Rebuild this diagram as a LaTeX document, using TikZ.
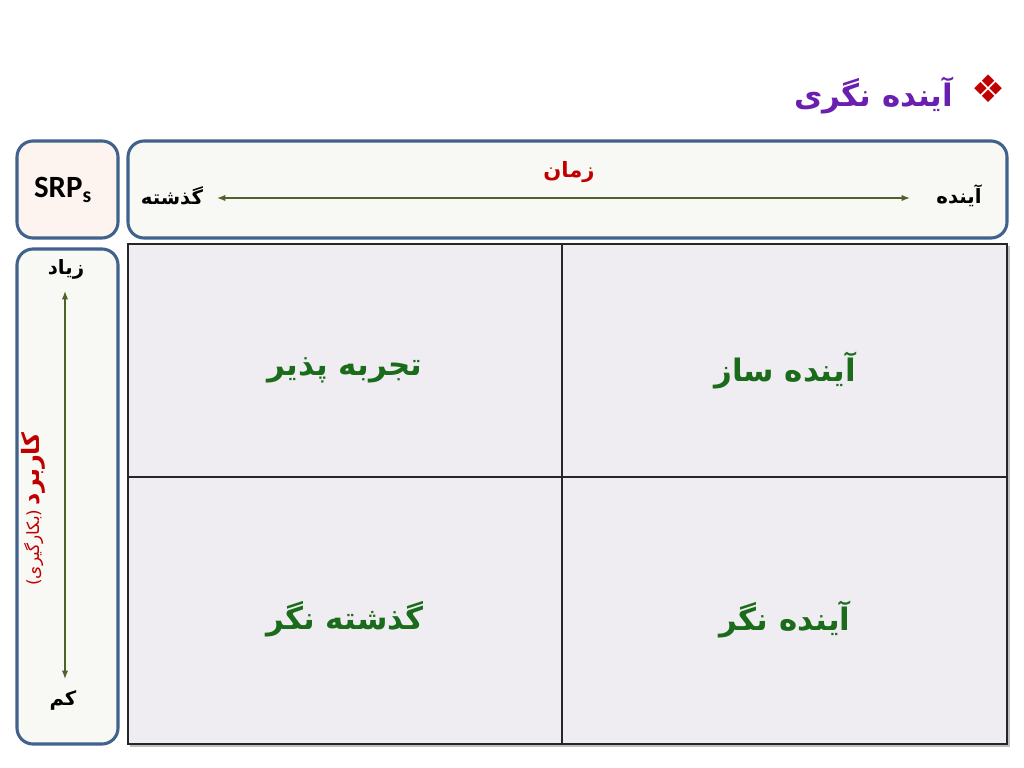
\documentclass[tikz,border=0pt]{standalone}
\usepackage{fontspec}
\setmainfont{Carlito}
\newfontfamily\fa[Script=Arabic]{DejaVu Sans}
\newfontfamily\symfont{DejaVu Sans}
\TeXXeTstate=1
\usetikzlibrary{arrows.meta}
\def\rtl#1{\beginR#1\endR}

\definecolor{framecol}{HTML}{41628C}
\definecolor{srpfill}{HTML}{FDF4EF}
\definecolor{boxfill}{HTML}{F8F8F4}
\definecolor{gridfill}{HTML}{EFEDF2}
\definecolor{titlecol}{HTML}{6A1FB0}
\definecolor{redcol}{HTML}{C00000}
\definecolor{greencol}{HTML}{1A6B1A}
\definecolor{arrowcol}{HTML}{4F6228}

\tikzset{
	panel/.style={draw=framecol, line width=2.2pt, rounded corners=0.4cm},
	celltext/.style={font=\fa\bfseries\fontsize{22}{26}\selectfont, text=greencol},
	smalltext/.style={font=\fa\bfseries\fontsize{14}{17}\selectfont, text=black},
	twoway/.style={arrowcol, line width=0.9pt, {Latex[length=6pt,width=4.5pt]}-{Latex[length=6pt,width=4.5pt]}}
}

\begin{document}
\begin{tikzpicture}[x=0.025cm, y=-0.025cm]
			%%%%% START %%%%%
			\useasboundingbox[fill=white] (0, 0) rectangle (1024, 768);
			
			% title
			\node[anchor=east, text=titlecol, font=\fa\bfseries\fontsize{22}{26}\selectfont] (title) at (958, 96) {\rtl{آینده نگری}};
			\node[text=redcol, font=\symfont\fontsize{27}{30}\selectfont] (bullet) at (989, 89) {❖};
			
			% panels
			\draw[panel, fill=srpfill] (17, 141) rectangle (118, 238);
			\draw[panel, fill=boxfill] (128, 141) rectangle (1007, 238);
			\draw[panel, fill=boxfill] (17, 249) rectangle (118, 744);
			
			\node[font=\bfseries\fontsize{22}{25}\selectfont] (srp) at (63, 190) {SRP\textsubscript{s}};
			
			% time axis
			\node[font=\fa\bfseries\fontsize{15}{18}\selectfont, text=redcol] (time) at (569, 172) {\rtl{زمان}};
			\node[smalltext] (past) at (172, 196) {\rtl{گذشته}};
			\node[smalltext] (future) at (959, 196) {\rtl{آینده}};
			\coordinate (pastend) at (217, 198);
			\coordinate (futureend) at (910, 198);
			\draw[twoway] (pastend) -- (futureend);
			
			% usage axis
			\node[smalltext] (high) at (66, 269) {\rtl{زیاد}};
			\node[smalltext] (low) at (63, 700) {\rtl{کم}};
			\coordinate (highend) at (65, 291);
			\coordinate (lowend) at (65, 679);
			\draw[twoway] (highend) -- (lowend);
			\node[rotate=90, text=redcol, font=\fa] (usage) at (33, 509) {{\fontsize{12}{14}\selectfont)\rtl{بکارگیری}(} {\bfseries\fontsize{17}{20}\selectfont\rtl{کاربرد}}};
			
			% grid
			\fill[black!25] (130, 246) rectangle (1010, 747);
			\draw[fill=gridfill, line width=1.4pt, draw=black!85] (128, 244) rectangle (1007, 744);
			\draw[line width=1.4pt, draw=black!85] (562, 244) -- (562, 744);
			\draw[line width=1.4pt, draw=black!85] (128, 477) -- (1007, 477);
			
			\node[celltext] (shaper) at (785, 370) {\rtl{آینده ساز}};
			\node[celltext] (learner) at (345, 370) {\rtl{تجربه پذیر}};
			\node[celltext] (foresight) at (785, 619) {\rtl{آینده نگر}};
			\node[celltext] (hindsight) at (345, 619) {\rtl{گذشته نگر}};
			%%%%% END %%%%%
\end{tikzpicture}
\end{document}
